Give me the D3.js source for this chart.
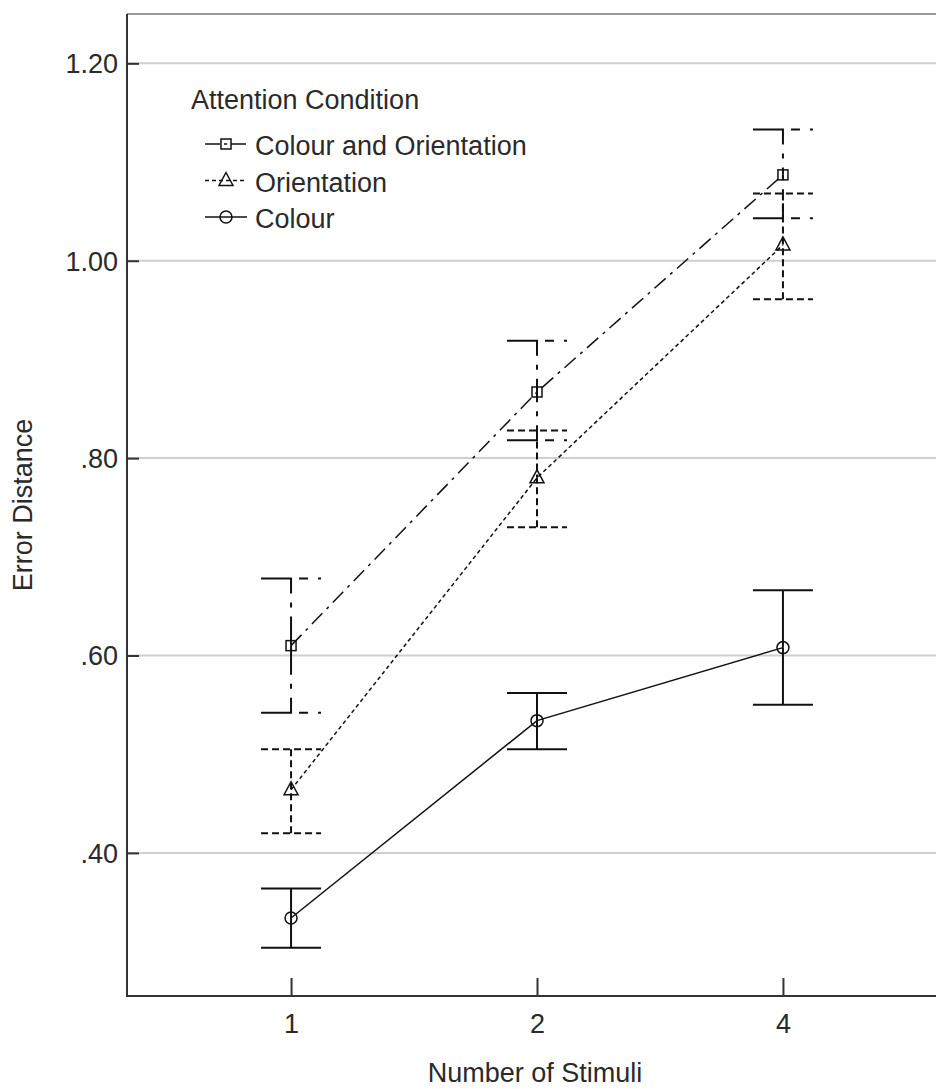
<!DOCTYPE html>
<html>
<head>
<meta charset="utf-8">
<script src="https://cdn.jsdelivr.net/npm/d3@7"></script>
<style>
  body { margin: 0; background: #fff; }
  text { font-family: "Liberation Sans", Arial, sans-serif; fill: #2a2a2a; }
</style>
</head>
<body>
<div id="chart"></div>
<script>

var width = 936;
var height = 1089;

// chart values
var stimuli = ["1", "2", "4"];
var yTicks = [0.40, 0.60, 0.80, 1.00, 1.20];
var seriesNames = ["Colour and Orientation", "Orientation", "Colour"];

var colOriMean  = [0.610, 0.867, 1.087];
var colOriLow   = [0.542, 0.818, 1.043];
var colOriHigh  = [0.678, 0.919, 1.133];

var oriMean     = [0.464, 0.780, 1.016];
var oriLow      = [0.420, 0.730, 0.961];
var oriHigh     = [0.505, 0.828, 1.068];

var colMean     = [0.334, 0.534, 0.608];
var colLow      = [0.304, 0.505, 0.550];
var colHigh     = [0.364, 0.562, 0.666];

var plotLeft = 127, plotTop = 14, plotBottom = 996;

var svg = d3.select("#chart")
  .append("svg")
  .attr("width", width)
  .attr("height", height);

var xScale = d3.scalePoint()
  .domain(stimuli)
  .range([plotLeft, plotLeft + 820])
  .padding(0.667);

var yScale = d3.scaleLinear()
  .domain([0.255, 1.25])
  .range([plotBottom, plotTop]);

// gridlines
svg.append("g")
  .selectAll("line")
  .data(yTicks)
  .enter().append("line")
  .attr("x1", plotLeft)
  .attr("x2", width)
  .attr("y1", function(d) { return yScale(d); })
  .attr("y2", function(d) { return yScale(d); })
  .attr("stroke", "#cfcfcf")
  .attr("stroke-width", 2);

// top frame line
svg.append("line")
  .attr("x1", plotLeft).attr("x2", width)
  .attr("y1", plotTop).attr("y2", plotTop)
  .attr("stroke", "#777")
  .attr("stroke-width", 1.5);

// y axis
var yAxis = svg.append("g")
  .attr("transform", "translate(" + plotLeft + ",0)")
  .call(d3.axisRight(yScale)
    .tickValues(yTicks)
    .tickSize(12)
    .tickFormat(function(d) { return d3.format(".2f")(d).replace(/^0/, ""); }));
yAxis.select(".domain").remove();
yAxis.selectAll(".tick line").attr("stroke", "#333").attr("stroke-width", 2);
yAxis.selectAll(".tick text")
  .attr("x", -9)
  .attr("dy", "0.35em")
  .attr("text-anchor", "end")
  .style("font-size", "27px")
  .style("font-family", "'Liberation Sans', Arial, sans-serif")
  .attr("fill", "#2a2a2a");

svg.append("line")
  .attr("x1", plotLeft).attr("x2", plotLeft)
  .attr("y1", plotTop).attr("y2", plotBottom + 1)
  .attr("stroke", "#333")
  .attr("stroke-width", 2);

// x axis
var xAxis = svg.append("g")
  .attr("transform", "translate(0," + plotBottom + ")")
  .call(d3.axisBottom(xScale).tickSize(-18).tickSizeOuter(0));
xAxis.select(".domain").remove();
xAxis.selectAll(".tick line").attr("stroke", "#333").attr("stroke-width", 2);
xAxis.selectAll(".tick text")
  .attr("y", 37)
  .attr("dy", 0)
  .style("font-size", "27px")
  .style("font-family", "'Liberation Sans', Arial, sans-serif")
  .attr("fill", "#2a2a2a");

svg.append("line")
  .attr("x1", plotLeft).attr("x2", width)
  .attr("y1", plotBottom).attr("y2", plotBottom)
  .attr("stroke", "#333")
  .attr("stroke-width", 2);

// axis titles
svg.append("text")
  .attr("x", 535)
  .attr("y", 1082)
  .attr("text-anchor", "middle")
  .style("font-size", "27px")
  .text("Number of Stimuli");

svg.append("text")
  .attr("transform", "translate(32," + ((plotTop + plotBottom) / 2) + ") rotate(-90)")
  .attr("text-anchor", "middle")
  .style("font-size", "27px")
  .text("Error Distance");

// series styles
var series = [
  { name: seriesNames[0], mean: colOriMean, low: colOriLow, high: colOriHigh,
    dash: "15,6,3,6", marker: "square" },
  { name: seriesNames[1], mean: oriMean, low: oriLow, high: oriHigh,
    dash: "4,3", marker: "triangle" },
  { name: seriesNames[2], mean: colMean, low: colLow, high: colHigh,
    dash: null, marker: "circle" }
];

var capHalf = 30;

function drawMarker(g, type, cx, cy) {
  if (type === "square") {
    g.append("rect")
      .attr("x", cx - 5).attr("y", cy - 5)
      .attr("width", 10).attr("height", 10)
      .attr("fill", "none").attr("stroke", "#111").attr("stroke-width", 1.5);
  } else if (type === "triangle") {
    g.append("path")
      .attr("d", "M" + cx + "," + (cy - 8) + "L" + (cx + 7) + "," + (cy + 5) + "L" + (cx - 7) + "," + (cy + 5) + "Z")
      .attr("fill", "none").attr("stroke", "#111").attr("stroke-width", 1.5);
  } else {
    g.append("circle")
      .attr("cx", cx).attr("cy", cy).attr("r", 6)
      .attr("fill", "none").attr("stroke", "#111").attr("stroke-width", 1.5);
  }
}

var line = d3.line()
  .x(function(d) { return xScale(d.x); })
  .y(function(d) { return yScale(d.y); });

series.forEach(function(s) {
  var g = svg.append("g").attr("class", "series");
  var pts = stimuli.map(function(c, i) { return { x: c, y: s.mean[i] }; });

  // error bars
  stimuli.forEach(function(c, i) {
    var cx = xScale(c);
    var ym = yScale(s.mean[i]);
    [s.high[i], s.low[i]].forEach(function(v) {
      var yc = yScale(v);
      if (s.marker === "square") {
        // dash-dot bars: left half of cap joined to the stem
        g.append("path")
          .attr("d", "M" + (cx - capHalf) + "," + yc + "H" + cx + "V" + ym)
          .attr("fill", "none").attr("stroke", "#111").attr("stroke-width", 2)
          .attr("stroke-dasharray", "45,9,5,9");
        g.append("path")
          .attr("d", "M" + cx + "," + yc + "H" + (cx + capHalf))
          .attr("fill", "none").attr("stroke", "#111").attr("stroke-width", 2)
          .attr("stroke-dasharray", "0,8,9,10,3,10");
      } else {
        g.append("path")
          .attr("d", "M" + (cx - capHalf) + "," + yc + "H" + (cx + capHalf))
          .attr("fill", "none").attr("stroke", "#111").attr("stroke-width", 2)
          .attr("stroke-dasharray", s.dash ? "7,4" : null);
        g.append("path")
          .attr("d", "M" + cx + "," + yc + "V" + ym)
          .attr("fill", "none").attr("stroke", "#111").attr("stroke-width", 2)
          .attr("stroke-dasharray", s.dash ? "7,4" : null);
      }
    });
  });

  g.append("path")
    .datum(pts)
    .attr("d", line)
    .attr("fill", "none")
    .attr("stroke", "#111")
    .attr("stroke-width", 1.5)
    .attr("stroke-dasharray", s.dash);

  pts.forEach(function(p) { drawMarker(g, s.marker, xScale(p.x), yScale(p.y)); });
});

// legend
var legend = svg.append("g");
legend.append("text")
  .attr("x", 191)
  .attr("y", 109)
  .style("font-size", "27px")
  .text("Attention Condition");

series.forEach(function(s, i) {
  var base = 155 + i * 36.5;
  var cy = base - 11;
  legend.append("line")
    .attr("x1", 205).attr("x2", 247)
    .attr("y1", cy).attr("y2", cy)
    .attr("stroke", "#111").attr("stroke-width", 1.5)
    .attr("stroke-dasharray", s.marker === "square" ? "15,4,3,4" : s.dash);
  drawMarker(legend, s.marker, 226, cy);
  legend.append("text")
    .attr("x", 255)
    .attr("y", base)
    .style("font-size", "27px")
    .text(s.name);
});

</script>
</body>
</html>
